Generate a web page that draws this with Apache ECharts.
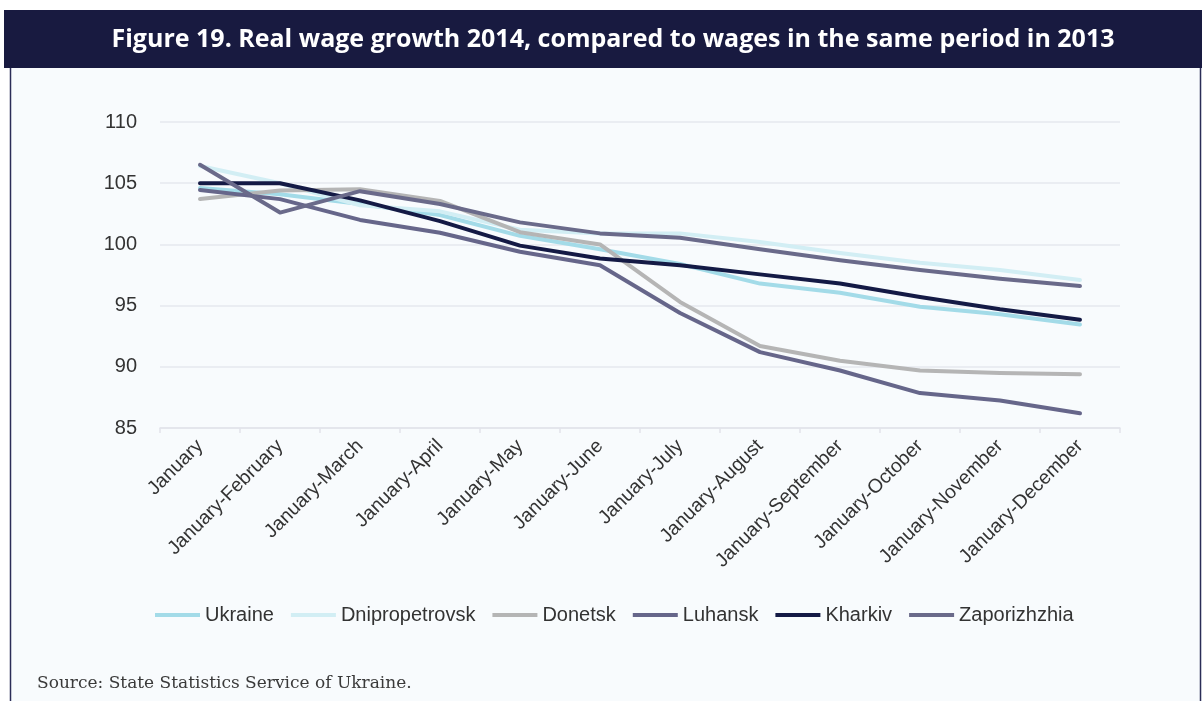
<!DOCTYPE html>
<html>
<head>
<meta charset="utf-8">
<script src="https://cdn.jsdelivr.net/npm/echarts@6/dist/echarts.min.js"></script>
<style>
  html, body { margin: 0; padding: 0; background: #ffffff; }
  #chart { width: 1202px; height: 701px; }
</style>
</head>
<body>
<div id="chart"></div>
<script>
// Cumulative periods of 2014
const categories = [
  'January', 'January-February', 'January-March', 'January-April',
  'January-May', 'January-June', 'January-July', 'January-August',
  'January-September', 'January-October', 'January-November', 'January-December'
];

// Real wage index, same period of 2013 = 100
const ukraine        = [104.6, 104.1, 103.3, 102.4, 100.7, 99.6, 98.4, 96.8, 96.05, 94.9, 94.3, 93.45];
const dnipropetrovsk = [106.4, 105.0, 103.2, 102.7, 101.2, 100.9, 100.9, 100.2, 99.3, 98.5, 97.9, 97.1];
const donetsk        = [103.7, 104.4, 104.5, 103.55, 101.0, 100.0, 95.3, 91.7, 90.5, 89.7, 89.5, 89.4];
const luhansk        = [104.45, 103.7, 102.0, 100.95, 99.4, 98.3, 94.4, 91.2, 89.7, 87.85, 87.25, 86.2];
const kharkiv        = [105.0, 105.0, 103.6, 101.9, 99.9, 98.85, 98.3, 97.55, 96.8, 95.7, 94.7, 93.85];
const zaporizhzhia   = [106.5, 102.6, 104.35, 103.3, 101.8, 100.9, 100.55, 99.6, 98.7, 97.9, 97.2, 96.6];

const yTicks = { min: 85, max: 110, step: 5 };

const titleText = 'Figure 19. Real wage growth 2014, compared to wages in the same period in 2013';
const sourceText = 'Source: State Statistics Service of Ukraine.';

const seriesDefs = [
  { name: 'Ukraine',        data: ukraine,        color: '#a3dbe8' },
  { name: 'Dnipropetrovsk', data: dnipropetrovsk, color: '#d2eef4' },
  { name: 'Donetsk',        data: donetsk,        color: '#b5b5b5' },
  { name: 'Luhansk',        data: luhansk,        color: '#66668a' },
  { name: 'Kharkiv',        data: kharkiv,        color: '#141a45' },
  { name: 'Zaporizhzhia',   data: zaporizhzhia,   color: '#6a6a8a' }
];

const chart = echarts.init(document.getElementById('chart'), null, { renderer: 'canvas' });

const option = {
  backgroundColor: '#ffffff',
  animation: false,
  graphic: [
    // panel body
    { type: 'rect', z: -10, silent: true,
      shape: { x: 10, y: 68, width: 1192, height: 633 },
      style: { fill: '#f8fbfd' } },
    { type: 'line', z: -9, silent: true,
      shape: { x1: 10.5, y1: 68, x2: 10.5, y2: 701 },
      style: { stroke: '#2b2d57', lineWidth: 1.5 } },
    { type: 'line', z: -9, silent: true,
      shape: { x1: 1200.5, y1: 68, x2: 1200.5, y2: 701 },
      style: { stroke: '#2b2d57', lineWidth: 1.5 } },
    // title bar
    { type: 'rect', z: -8, silent: true,
      shape: { x: 4, y: 10, width: 1198, height: 58 },
      style: { fill: '#181a40' } },
    { type: 'text', z: 10, silent: true,
      x: 613, y: 40,
      style: {
        text: titleText,
        fill: '#ffffff',
        font: 'bold 25px "Open Sans", sans-serif',
        textAlign: 'center', textVerticalAlign: 'middle'
      } },
    // source note
    { type: 'text', z: 10, silent: true,
      x: 37, y: 684,
      style: {
        text: sourceText,
        fill: '#3a3a3a',
        font: '17px "DejaVu Serif", serif',
        textAlign: 'left', textVerticalAlign: 'middle'
      } }
  ],
  grid: { left: 160, right: 82, top: 122, bottom: 273, containLabel: false },
  legend: {
    top: 600,
    left: 150,
    icon: 'rect',
    itemWidth: 45,
    itemHeight: 4,
    itemGap: 17,
    textStyle: { fontFamily: 'Liberation Sans, Arial, sans-serif', fontSize: 20, color: '#333333' },
    data: seriesDefs.map(s => s.name)
  },
  xAxis: {
    type: 'category',
    data: categories,
    boundaryGap: true,
    axisLine: { show: true, lineStyle: { color: '#e2e4ea', width: 1.5 } },
    axisTick: { show: true, length: 5, lineStyle: { color: '#e2e4ea', width: 1.5 } },
    axisLabel: {
      interval: 0,
      rotate: 45,
      margin: 15,
      fontFamily: 'Liberation Sans, Arial, sans-serif',
      fontSize: 19.5,
      color: '#333333'
    }
  },
  yAxis: {
    type: 'value',
    min: yTicks.min,
    max: yTicks.max,
    interval: yTicks.step,
    axisLine: { show: false },
    axisTick: { show: false },
    axisLabel: {
      margin: 23,
      fontFamily: 'Liberation Sans, Arial, sans-serif',
      fontSize: 20,
      color: '#333333'
    },
    splitLine: { show: true, lineStyle: { color: '#e6e8ee', width: 1.5 } }
  },
  series: seriesDefs.map(s => ({
    name: s.name,
    type: 'line',
    data: s.data,
    symbol: 'none',
    smooth: false,
    color: s.color,
    lineStyle: { color: s.color, width: 4, cap: 'round', join: 'round' },
    itemStyle: { color: s.color }
  }))
};

chart.setOption(option);
</script>
</body>
</html>
